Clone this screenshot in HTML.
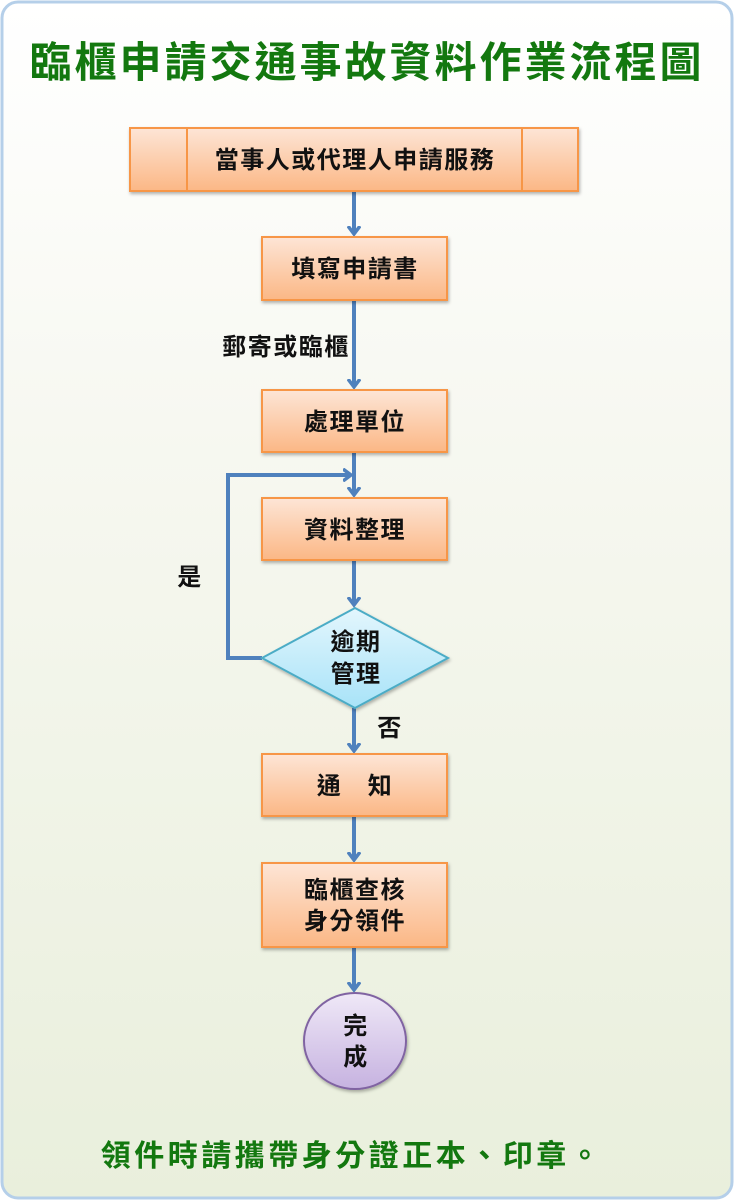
<!DOCTYPE html>
<html><head><meta charset="utf-8"><style>
html,body{margin:0;padding:0;width:734px;height:1200px;overflow:hidden;background:#fff}
svg{display:block}
text{font-family:"Liberation Sans","Noto Sans CJK TC",sans-serif}
</style></head><body>
<svg width="734" height="1200" viewBox="0 0 734 1200">
<defs>
<linearGradient id="bg" x1="0" y1="0" x2="0" y2="1">
<stop offset="0" stop-color="#ffffff"/><stop offset="0.35" stop-color="#f7f8f1"/><stop offset="1" stop-color="#e9efdc"/></linearGradient>
<linearGradient id="or" x1="0" y1="0" x2="0" y2="1">
<stop offset="0" stop-color="#fde5d6"/><stop offset="1" stop-color="#fbb785"/></linearGradient>
<linearGradient id="bl" x1="0" y1="0" x2="0" y2="1">
<stop offset="0" stop-color="#e3f6fd"/><stop offset="1" stop-color="#a8e3f8"/></linearGradient>
<linearGradient id="pu" x1="0" y1="0" x2="0" y2="1">
<stop offset="0" stop-color="#efe8f7"/><stop offset="1" stop-color="#c6b2e0"/></linearGradient>
<marker id="ar" markerWidth="14" markerHeight="14" refX="8" refY="7" orient="auto" markerUnits="userSpaceOnUse">
<path d="M0,1 L8,7 L0,13" fill="none" stroke="#4f81bd" stroke-width="3.5"/></marker>
<filter id="sh"><feDropShadow dx="1" dy="2" stdDeviation="1.5" flood-color="#000" flood-opacity="0.3"/></filter>
</defs>
<rect x="2" y="2" width="730" height="1196" rx="16" fill="url(#bg)" stroke="#b5cfe9" stroke-width="3"/>
<text x="367" y="77" text-anchor="middle" font-size="42" font-weight="bold" fill="#13780f" letter-spacing="3">臨櫃申請交通事故資料作業流程圖</text>

<g stroke="#4f81bd" stroke-width="4" fill="none">
<line x1="354" y1="191" x2="354" y2="234" marker-end="url(#ar)"/>
<line x1="354" y1="300" x2="354" y2="387" marker-end="url(#ar)"/>
<line x1="354" y1="452" x2="354" y2="495" marker-end="url(#ar)"/>
<line x1="354" y1="560" x2="354" y2="605" marker-end="url(#ar)"/>
<line x1="354" y1="708" x2="354" y2="751" marker-end="url(#ar)"/>
<line x1="354" y1="816" x2="354" y2="860" marker-end="url(#ar)"/>
<line x1="354" y1="947" x2="354" y2="990" marker-end="url(#ar)"/>
<polyline points="262,658 228,658 228,475 351,475" marker-end="url(#ar)"/>
</g>

<g filter="url(#sh)" stroke="#f79646" stroke-width="2" fill="url(#or)">
<rect x="130" y="128" width="448" height="63"/>
<rect x="262" y="237" width="185" height="63"/>
<rect x="262" y="390" width="185" height="62"/>
<rect x="262" y="498" width="185" height="62"/>
<rect x="262" y="754" width="185" height="62"/>
<rect x="262" y="863" width="185" height="84"/>
</g>
<line x1="187" y1="128" x2="187" y2="191" stroke="#f79646" stroke-width="2"/>
<line x1="522" y1="128" x2="522" y2="191" stroke="#f79646" stroke-width="2"/>
<polygon points="355,608 448,658 355,708 262,658" fill="url(#bl)" stroke="#4bacc6" stroke-width="2" filter="url(#sh)"/>
<ellipse cx="355" cy="1041" rx="51" ry="48" fill="url(#pu)" stroke="#8064a2" stroke-width="2" filter="url(#sh)"/>

<g font-size="24" font-weight="bold" fill="#111" text-anchor="middle" letter-spacing="1.5">
<text x="355" y="168">當事人或代理人申請服務</text>
<text x="355" y="277">填寫申請書</text>
<text x="355" y="430">處理單位</text>
<text x="355" y="538">資料整理</text>
<text x="356" y="650">逾期</text>
<text x="356" y="682">管理</text>
<text x="355" y="794">通　知</text>
<text x="355" y="898">臨櫃查核</text>
<text x="355" y="929">身分領件</text>
<text x="356" y="1034">完</text>
<text x="356" y="1065">成</text>
<text x="286" y="355">郵寄或臨櫃</text>
<text x="190" y="585">是</text>
<text x="390" y="736">否</text>
</g>
<text x="352" y="1166" text-anchor="middle" font-size="30" font-weight="bold" fill="#13780f" letter-spacing="3.5">領件時請攜帶身分證正本、印章。</text>
</svg>
</body></html>
